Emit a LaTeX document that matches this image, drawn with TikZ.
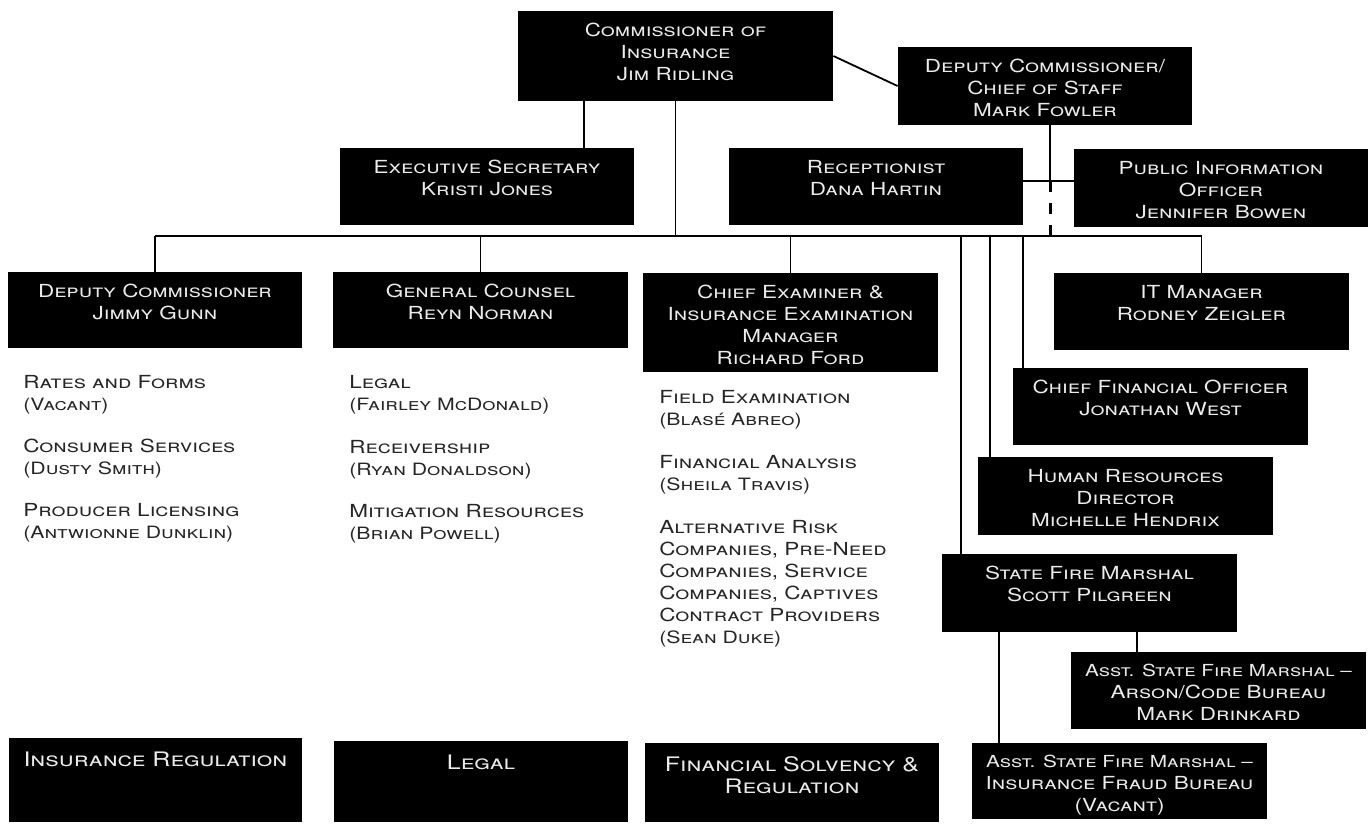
\documentclass[tikz,border=0pt]{standalone}
\usepackage{fontspec}
\setmainfont{TeX Gyre Heros}[FakeStretch=1.25]
\usetikzlibrary{positioning}

\tikzset{
  post/.style={fill=black, draw=none, inner sep=0pt},
  posttext/.style={text=white!92!black, align=center, inner sep=0pt,
    font=\fontsize{9}{11}\selectfont\scshape},
  areatext/.style={posttext, font=\fontsize{10}{11}\selectfont\scshape},
  unit/.style={text=black!85, align=left, inner sep=0pt, anchor=north west,
    font=\fontsize{9}{11}\selectfont\scshape},
  link/.style={line width=0.9pt},
  dashlink/.style={line width=1.5pt, dash pattern=on 5.5pt off 5.5pt},
}
\newcommand{\who}[1]{{\fontsize{8.5}{11}\selectfont #1}}
\newcommand{\tight}[1]{{\fontsize{8.3}{11}\selectfont #1}}

\begin{document}
\begin{tikzpicture}[x=0.5pt, y=-0.5pt]
\useasboundingbox (0,0) rectangle (1372,824);

% boxes
\node[post, minimum width=157.5pt, minimum height=45pt] (comm) at (675.5,56) {};
\node[post, minimum width=147pt, minimum height=39pt] (deputy) at (1045,86) {};
\node[post, minimum width=147pt, minimum height=38.5pt] (secretary) at (487,186.5) {};
\node[post, minimum width=147pt, minimum height=38.5pt] (reception) at (876,186.5) {};
\node[post, minimum width=147pt, minimum height=39pt] (pio) at (1221,188) {};
\node[post, minimum width=147pt, minimum height=38pt] (gunn) at (155,310) {};
\node[post, minimum width=147.5pt, minimum height=38pt] (counsel) at (480.5,310) {};
\node[post, minimum width=147.5pt, minimum height=49.5pt] (examiner) at (790.5,322.5) {};
\node[post, minimum width=147.5pt, minimum height=38.5pt] (itmgr) at (1201.5,311.5) {};
\node[post, minimum width=147.5pt, minimum height=38.5pt] (cfo) at (1160.5,406.5) {};
\node[post, minimum width=147.5pt, minimum height=39pt] (hr) at (1125.5,496) {};
\node[post, minimum width=147.5pt, minimum height=39pt] (marshal) at (1089.5,593) {};
\node[post, minimum width=147.5pt, minimum height=38.5pt] (arson) at (1218.5,690.5) {};
\node[post, minimum width=147.5pt, minimum height=38pt] (fraud) at (1119.5,781) {};
\node[post, minimum width=146.5pt, minimum height=42pt] (insreg) at (155.5,780) {};
\node[post, minimum width=147pt, minimum height=40.5pt] (legal) at (481,781.5) {};
\node[post, minimum width=147pt, minimum height=39.5pt] (solvency) at (792,782.5) {};

% box texts
\node[posttext, below=6pt of comm.north] (comm-t) {Commissioner of\\Insurance\\Jim Ridling};
\node[posttext, below=6pt of deputy.north] (deputy-t) {Deputy Commissioner/\\Chief of Staff\\Mark Fowler};
\node[posttext, below=6pt of secretary.north] (secretary-t) {Executive Secretary\\Kristi Jones};
\node[posttext, below=6pt of reception.north] (reception-t) {Receptionist\\Dana Hartin};
\node[posttext, below=6pt of pio.north] (pio-t) {Public Information\\Officer\\Jennifer Bowen};
\node[posttext, below=6pt of gunn.north] (gunn-t) {Deputy Commissioner\\Jimmy Gunn};
\node[posttext, below=6pt of counsel.north] (counsel-t) {General Counsel\\Reyn Norman};
\node[posttext, below=6pt of examiner.north] (examiner-t) {Chief Examiner \&\\Insurance Examination\\Manager\\Richard Ford};
\node[posttext, below=6pt of itmgr.north] (itmgr-t) {IT Manager\\Rodney Zeigler};
\node[posttext, below=6pt of cfo.north] (cfo-t) {Chief Financial Officer\\Jonathan West};
\node[posttext, below=6pt of hr.north] (hr-t) {Human Resources\\Director\\Michelle Hendrix};
\node[posttext, below=6pt of marshal.north] (marshal-t) {State Fire Marshal\\Scott Pilgreen};
\node[posttext, below=6pt of arson.north] (arson-t) {\tight{Asst. State Fire Marshal --}\\Arson/Code Bureau\\Mark Drinkard};
\node[posttext, below=6pt of fraud.north] (fraud-t) {\tight{Asst. State Fire Marshal --}\\Insurance Fraud Bureau\\(Vacant)};
\node[areatext, below=7pt of insreg.north] (insreg-t) {Insurance Regulation};
\node[areatext, below=7pt of legal.north] (legal-t) {Legal};
\node[areatext, below=7pt of solvency.north] (solvency-t) {Financial Solvency \&\\Regulation};

% sections under the boxes
\node[unit] (rates) at (23,375) {Rates and Forms\\\who{(Vacant)}};
\node[unit] (consumer) at (23,439) {Consumer Services\\\who{(Dusty Smith)}};
\node[unit] (producer) at (23,503) {Producer Licensing\\\who{(Antwionne Dunklin)}};
\node[unit] (legalsec) at (349,375) {Legal\\\who{(Fairley McDonald)}};
\node[unit] (receiver) at (349,440) {Receivership\\\who{(Ryan Donaldson)}};
\node[unit] (mitigation) at (349,504) {Mitigation Resources\\\who{(Brian Powell)}};
\node[unit] (fieldexam) at (659,390) {Field Examination\\\who{(Blasé Abreo)}};
\node[unit] (analysis) at (659,455) {Financial Analysis\\\who{(Sheila Travis)}};
\node[unit] (altrisk) at (659,520) {Alternative Risk\\Companies, Pre-Need\\Companies, Service\\Companies, Captives\\Contract Providers\\\who{(Sean Duke)}};

% lines
\coordinate (busW) at (155,236);
\coordinate (junc) at (1050,181);
\coordinate (secdrop) at (584,0);
\coordinate (mdrop) at (961,0);
\coordinate (hdrop) at (990,0);
\coordinate (cdrop) at (1023,0);
\coordinate (adrop) at (1137,0);
\coordinate (fdrop) at (999,0);

\draw[link] (comm.east) -- (deputy.west);
\draw[link] (comm.south -| secdrop) -- (secretary.north -| secdrop);
\draw[link] (comm.south) -- (comm.south |- busW);
\draw[link] (busW) -- (itmgr.north |- busW);
\draw[link] (deputy.south -| junc) -- (junc);
\draw[link] (reception.east |- junc) -- (pio.west |- junc);
\draw[dashlink] (junc) -- (junc |- busW);
\draw[link] (gunn.north |- busW) -- (gunn.north);
\draw[link] (counsel.north |- busW) -- (counsel.north);
\draw[link] (examiner.north |- busW) -- (examiner.north);
\draw[link] (itmgr.north |- busW) -- (itmgr.north);
\draw[link] (mdrop |- busW) -- (mdrop |- marshal.north);
\draw[link] (hdrop |- busW) -- (hdrop |- hr.north);
\draw[link] (cdrop |- busW) -- (cdrop |- cfo.north);
\draw[link] (marshal.south -| adrop) -- (arson.north -| adrop);
\draw[link] (marshal.south -| fdrop) -- (fraud.north -| fdrop);
\end{tikzpicture}
\end{document}
